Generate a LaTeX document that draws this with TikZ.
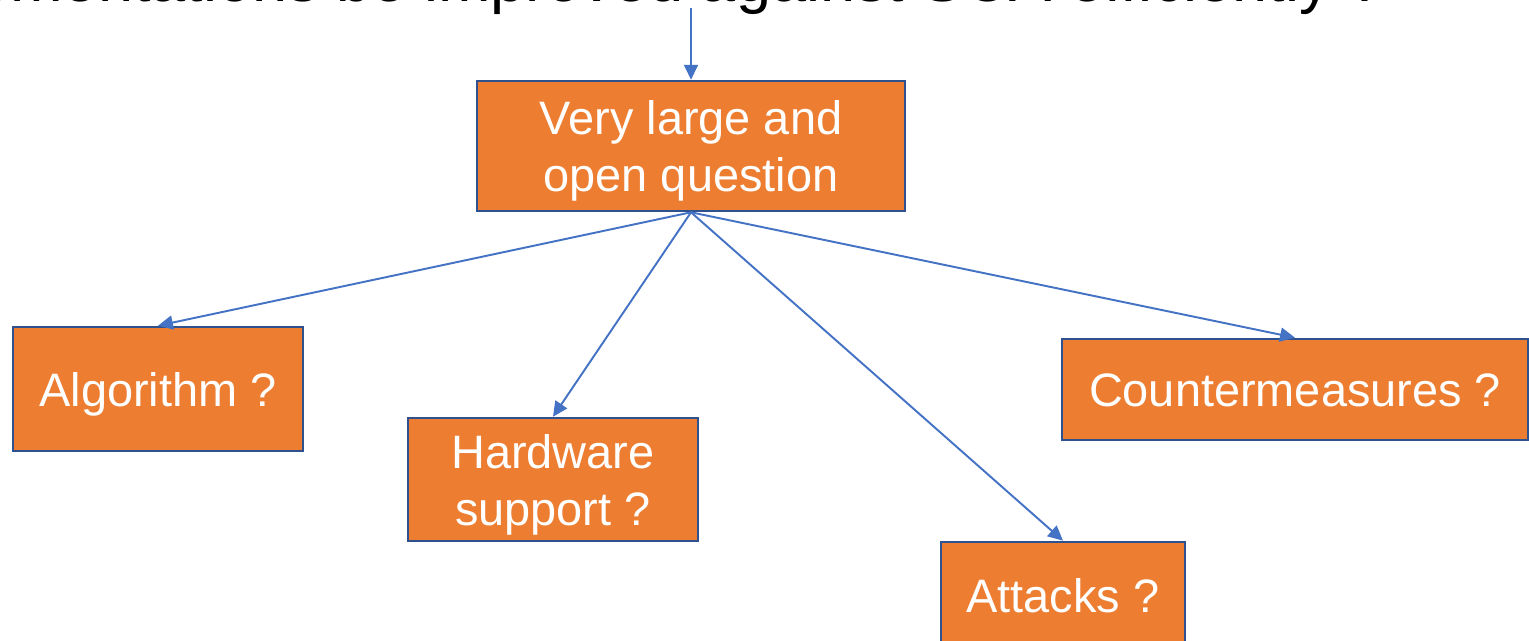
\documentclass[tikz,border=0pt]{standalone}
\usepackage{fontspec}
\setmainfont{Liberation Sans}
\usetikzlibrary{arrows.meta}
\definecolor{boxfill}{HTML}{ED7D31}
\definecolor{boxline}{HTML}{2F528F}
\definecolor{linkblue}{HTML}{4472C4}
\begin{document}
\begin{tikzpicture}[x=0.02cm, y=-0.02cm,
  box/.style={draw=boxline, line width=1.5pt, fill=boxfill, text=white,
    inner sep=0pt, align=center,
    font=\fontsize{26.7pt}{32.4pt}\selectfont,
    text height=25.4pt, text depth=5.6pt},
  twoline/.style={text height=57.8pt},
  link/.style={draw=linkblue, line width=1.1pt,
    -{Triangle[length=8.5pt, width=8pt]}}]
  \path[use as bounding box] (0,0) rectangle (1529,641);
  \clip (0,0) rectangle (1529,641);

  % question heading, running off the top edge
  \node[anchor=base east, inner sep=0pt, font=\fontsize{35.9pt}{43pt}\selectfont]
    (title) at (1384,1.5) {implementations be improved against SCA efficiently ?};

  % boxes
  \node[box, twoline, minimum width=8.56cm, minimum height=2.6cm]
    (top) at (691,146) {Very large and\\open question};
  \node[box, minimum width=5.8cm, minimum height=2.48cm]
    (alg) at (158,389) {Algorithm ?};
  \node[box, twoline, minimum width=5.8cm, minimum height=2.46cm]
    (hw) at (553,479.5) {Hardware\\support ?};
  \node[box, minimum width=4.88cm, minimum height=2.12cm]
    (att) at (1063,595) {Attacks ?};
  \node[box, minimum width=9.32cm, minimum height=2.02cm]
    (cm) at (1295,389.5) {Countermeasures ?};

  % connectors
  \coordinate (in) at (691,8);
  \draw[link] (in) -- (top.north);
  \draw[link] (top.south) -- (alg.north);
  \draw[link] (top.south) -- (hw.north);
  \draw[link] (top.south) -- (att.north);
  \draw[link] (top.south) -- (cm.north);
\end{tikzpicture}
\end{document}
